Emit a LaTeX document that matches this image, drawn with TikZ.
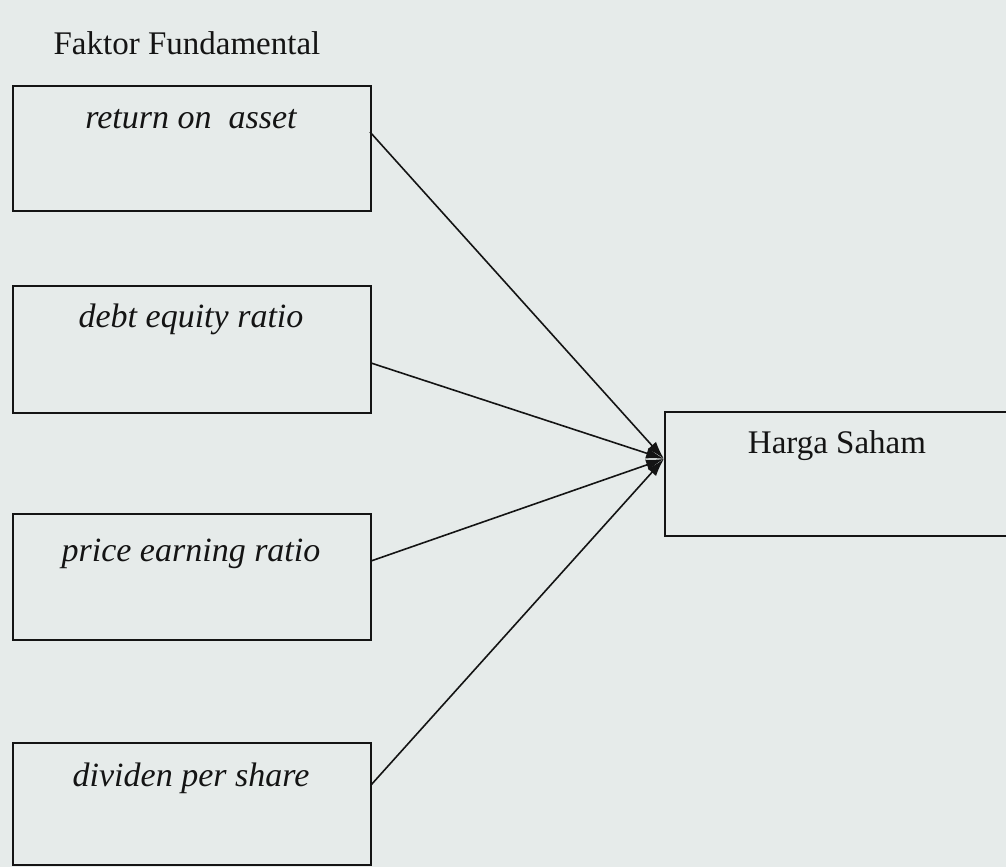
\documentclass[tikz,border=0pt]{standalone}
\usepackage{fontspec}
\setmainfont{Liberation Serif}
\usetikzlibrary{arrows.meta}
\definecolor{paper}{RGB}{230,235,234}
\definecolor{ink}{RGB}{20,20,20}
\tikzset{
  facbox/.style={draw=ink, line width=1.8pt, minimum width=358pt, inner sep=0pt, anchor=north west},
  factxt/.style={font=\fontsize{34}{40}\selectfont\itshape, text=ink, anchor=base, inner sep=0pt},
  plain/.style={font=\fontsize{33}{40}\selectfont, text=ink, anchor=base, inner sep=0pt},
  conn/.style={draw=ink, line width=1.6pt, -{Latex[length=18pt,width=11pt]}}
}
\begin{document}
\begin{tikzpicture}[x=1pt,y=-1pt]
\useasboundingbox (0,0) rectangle (1006,867);
\fill[paper] (0,0) rectangle (1006,867);
\clip (0,0) rectangle (1006,867);

\node[plain] (title) at (187,55) {Faktor Fundamental};

\node[facbox, minimum height=125pt] (b1) at (12,85) {};
\node[facbox, minimum height=127pt] (b2) at (12,285) {};
\node[facbox, minimum height=126pt] (b3) at (12,513) {};
\node[facbox, minimum height=122pt] (b4) at (12,742) {};

\node[factxt] (t1) at (191,128) {return on\ \ asset};
\node[factxt] (t2) at (191,327) {debt equity ratio};
\node[factxt] (t3) at (191,561) {price earning ratio};
\node[factxt] (t4) at (191,786) {dividen per share};

\node[draw=ink, line width=1.8pt, minimum width=351pt, minimum height=124pt, inner sep=0pt, anchor=north west] (hs) at (664,411) {};
\node[plain] (hst) at (837,453) {Harga Saham};

\coordinate (s1) at (370,132);
\coordinate (s2) at (371,363);
\coordinate (s3) at (371,561);
\coordinate (s4) at (371,785);
\coordinate (tip) at ([yshift=15pt]hs.west);

\draw[conn] (s1) -- (tip);
\draw[conn] (s2) -- (tip);
\draw[conn] (s3) -- (tip);
\draw[conn] (s4) -- (tip);
\end{tikzpicture}
\end{document}
